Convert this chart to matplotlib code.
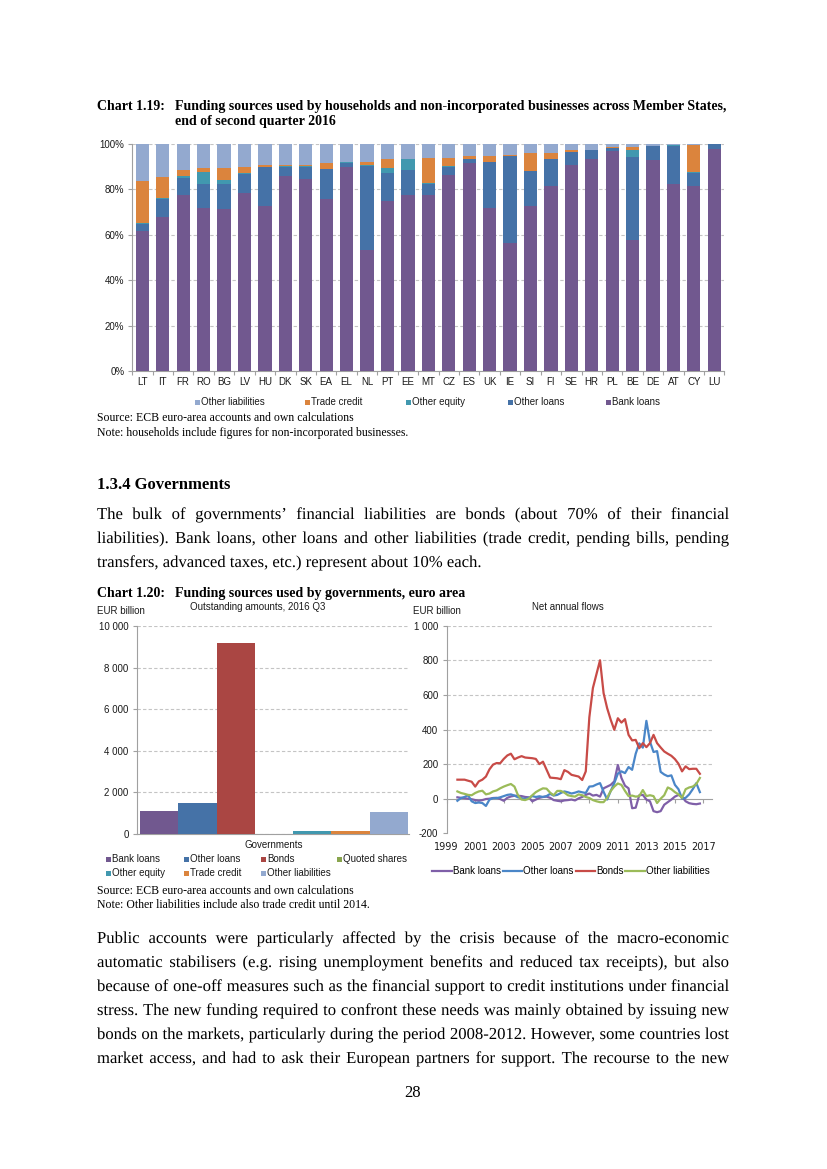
import numpy as np
import matplotlib.pyplot as plt
import matplotlib.patheffects as pe
from matplotlib.patches import Rectangle

# ---- Chart 1.19 data (% of total liabilities) ----
countries = ['LT', 'IT', 'FR', 'RO', 'BG', 'LV', 'HU', 'DK', 'SK', 'EA', 'EL', 'NL', 'PT', 'EE', 'MT',
             'CZ', 'ES', 'UK', 'IE', 'SI', 'FI', 'SE', 'HR', 'PL', 'BE', 'DE', 'AT', 'CY', 'LU']
bank_loans = [61.6, 67.9, 77.5, 71.7, 71.4, 78.4, 72.8, 86.0, 84.7, 75.7, 90.0, 53.3, 75.1, 77.5, 77.6,
              86.3, 91.5, 71.9, 56.6, 72.6, 81.3, 90.6, 93.4, 97.1, 57.6, 92.8, 82.5, 81.6, 97.9]
other_loans = [3.2, 7.8, 7.6, 10.5, 10.8, 8.5, 16.9, 4.0, 5.3, 13.3, 1.8, 37.1, 12.2, 11.0, 4.7,
               3.5, 1.9, 20.1, 37.9, 15.3, 11.9, 5.9, 3.8, 1.1, 36.8, 6.2, 16.8, 5.7, 2.0]
other_equity = [0.4, 0.3, 0.6, 5.4, 2.0, 0.3, 0.3, 0.1, 0.1, 0.2, 0.1, 0.3, 2.1, 4.7, 0.3,
                0.3, 0.1, 0.2, 0.1, 0.2, 0.2, 0.1, 0.1, 0.2, 3.1, 0.1, 0.1, 0.2, 0.0]
trade_credit = [18.6, 9.4, 2.7, 1.8, 5.2, 2.6, 0.7, 0.6, 0.8, 2.4, 0.3, 1.3, 4.0, 0.2, 11.1,
                3.9, 1.3, 2.6, 0.7, 8.1, 2.6, 0.6, 0.2, 0.1, 1.2, 0.2, 0.2, 12.2, 0.1]
other_liab = [16.2, 14.6, 11.6, 10.6, 10.6, 10.2, 9.3, 9.3, 9.1, 8.4, 7.8, 8.0, 6.6, 6.6, 6.3,
              6.0, 5.2, 5.2, 4.7, 3.8, 4.0, 2.8, 2.5, 1.5, 1.3, 0.7, 0.4, 0.3, 0.0]

# ---- Chart 1.20 left: outstanding amounts, EUR billion ----
gov_labels = ['Bank loans', 'Other loans', 'Bonds', 'Quoted shares', 'Other equity', 'Trade credit',
              'Other liabilities']
gov_values = [1120, 1470, 9170, 0, 130, 130, 1040]

# ---- Chart 1.20 right: net annual flows, quarterly ----
flow_bank = [8, 5, 3, 0, -3, -8, -12, -8, -2, 0,
             4, 5, -2, -12, 5, 13, 17, 17, 15, 10,
             8, -15, -5, 5, 10, 12, 5, -8, -12, -15,
             -10, -8, -5, -10, 2, 10, 22, 30, 18, 22,
             12, 60, 70, 80, 100, 195, 120, 75, 60, -55,
             -52, 20, 22, -5, -15, -72, -78, -72, -35, -20,
             -5, 12, 22, 12, -15, -26, -30, -32, -28]
flow_other_loans = [-12, 4, 10, 20, -15, -25, -22, -25, -42, -5,
                    3, 3, 8, 15, 22, 25, 18, 8, 3, -2,
                    5, 15, 10, 14, 10, 15, 28, 18, 22, 33,
                    42, 37, 30, 35, 42, 37, 33, 70, 72, 82,
                    90, 40, -5, 45, 90, 145, 158, 148, 183, 167,
                    260, 320, 295, 450, 330, 270, 275, 155, 140, 130,
                    135, 80, 55, 0, 5, 25, 55, 90, 38]
flow_bonds = [110, 110, 110, 104, 98, 70, 100, 110, 128, 170,
              197, 206, 205, 230, 250, 260, 228, 238, 246, 238,
              236, 234, 230, 200, 214, 168, 122, 120, 118, 113,
              165, 155, 138, 133, 128, 108, 158, 470, 640, 720,
              800, 610, 523, 456, 398, 465, 440, 460, 369, 337,
              340, 292, 321, 298, 321, 369, 321, 296, 273, 260,
              248, 229, 202, 158, 187, 171, 173, 173, 144]
flow_other_liab = [42, 33, 28, 22, 20, 33, 42, 46, 25, 30,
                   42, 48, 60, 70, 78, 85, 70, 20, -5, -8,
                   0, 20, 38, 50, 60, 58, 35, 20, 45, 45,
                   35, 20, 15, 12, 25, 20, 10, 4, -8, -15,
                   -20, -20, 5, 45, 70, 88, 80, 45, 15, 18,
                   12, 15, 50, 15, 20, 15, -25, 0, 20, 65,
                   55, 38, 25, 5, 55, 65, 70, 85, 120]
quarters = 1999.75 + 0.25 * np.arange(len(flow_bonds))
year_ticks = list(range(1999, 2018, 2))

# ---- page text ----
para1 = ["The bulk of governments\u2019 financial liabilities are bonds (about 70% of their financial",
         "liabilities). Bank loans, other loans and other liabilities (trade credit, pending bills, pending",
         "transfers, advanced taxes, etc.) represent about 10% each."]
para2 = ["Public accounts were particularly affected by the crisis because of the macro-economic",
         "automatic stabilisers (e.g. rising unemployment benefits and reduced tax receipts), but also",
         "because of one-off measures such as the financial support to credit institutions under financial",
         "stress. The new funding required to confront these needs was mainly obtained by issuing new",
         "bonds on the markets, particularly during the period 2008-2012. However, some countries lost",
         "market access, and had to ask their European partners for support. The recourse to the new"]

W, H = 827, 1169
SANS = 'Liberation Sans'
SERIF = 'Liberation Serif'
GRID = '#c4c4c4'
AXC = '#a0a0a0'
TXT = '#1a1a1a'
AS_PATH = [pe.Normal()]   # draw body words as outlines so baselines stay aligned

C_BANK = '#71588f'
C_OLOAN = '#4572a7'
C_BOND = '#aa4643'
C_QS = '#89a54e'
C_EQ = '#4198af'
C_TC = '#db843d'
C_OLIAB = '#93a9cf'

fig = plt.figure(figsize=(W / 100, H / 100), dpi=100)


def fx(px):
    return px / W


def fy(py):
    return 1 - py / H


def box(left, top, right, bottom):
    return [fx(left), fy(bottom), (right - left) / W, (bottom - top) / H]


def style_axes(ax):
    for s in ['top', 'right']:
        ax.spines[s].set_visible(False)
    for s in ['left', 'bottom']:
        ax.spines[s].set_color(AXC)
        ax.spines[s].set_linewidth(0.8)
    ax.tick_params(colors=AXC, labelcolor=TXT, labelsize=7, width=0.8, length=3)
    for lab in ax.get_xticklabels() + ax.get_yticklabels():
        lab.set_family(SANS)


def square_legend(items, xs, y):
    for (lab, col), xp in zip(items, xs):
        fig.add_artist(Rectangle((fx(xp), fy(y + 2.5)), 5 / W, 5 / H, color=col,
                                 transform=fig.transFigure, lw=0))
        fig.text(fx(xp + 6), fy(y), lab, fontsize=7, family=SANS, color=TXT, va='center')


def text_lines(lines, x0, x1, y0, dy=24, size=12, justify_last=False):
    renderer = fig.canvas.get_renderer()
    for k, line in enumerate(lines):
        y = fy(y0 + dy * k)
        if k == len(lines) - 1 and not justify_last:
            fig.text(fx(x0), y, line, fontsize=size, family=SERIF, va='baseline', path_effects=AS_PATH)
            continue
        words = line.split()
        ts = [fig.text(0, y, w, fontsize=size, family=SERIF, va='baseline', path_effects=AS_PATH)
              for w in words]
        widths = [t.get_window_extent(renderer).width for t in ts]
        gap = (x1 - x0 - sum(widths)) / (len(words) - 1)
        xp = x0
        for t, wd in zip(ts, widths):
            t.set_x(fx(xp))
            xp += wd + gap


# ================= Chart 1.19 =================
fig.text(fx(97), fy(110), 'Chart 1.19:', fontsize=10, weight='bold', family=SERIF)
fig.text(fx(175), fy(110), 'Funding sources used by households and non-incorporated businesses across Member States,',
         fontsize=10, weight='bold', family=SERIF)
fig.text(fx(175), fy(125), 'end of second quarter 2016', fontsize=10, weight='bold', family=SERIF)

ax1 = fig.add_axes(box(132.1, 144, 724.5, 371))
x = np.arange(len(countries))
bottom = np.zeros(len(countries))
stack = [(bank_loans, C_BANK), (other_loans, C_OLOAN), (other_equity, C_EQ),
         (trade_credit, C_TC), (other_liab, C_OLIAB)]
for vals, col in stack:
    ax1.bar(x, vals, 0.65, bottom=bottom, color=col, zorder=3, lw=0)
    bottom += np.array(vals)
ax1.set_xlim(-0.5, len(countries) - 0.5)
ax1.set_ylim(0, 100)
ax1.set_yticks(range(0, 101, 20), [f'{v}%' for v in range(0, 101, 20)])
ax1.set_xticks(x, countries)
ax1.set_xticks(np.arange(-0.5, len(countries), 1), minor=True)
ax1.yaxis.grid(True, ls=(0, (3, 2)), color=GRID, lw=0.8, zorder=0)
ax1.set_axisbelow(True)
style_axes(ax1)
ax1.tick_params(axis='x', which='major', length=0, pad=4)
ax1.tick_params(axis='x', which='minor', length=3, color=AXC, width=0.8)
ax1.tick_params(axis='y', pad=2.5)

square_legend([('Other liabilities', C_OLIAB), ('Trade credit', C_TC), ('Other equity', C_EQ),
               ('Other loans', C_OLOAN), ('Bank loans', C_BANK)], [195, 305, 406, 508, 606], 402)

fig.text(fx(97), fy(421), 'Source: ECB euro-area accounts and own calculations', fontsize=8.5, family=SERIF)
fig.text(fx(97), fy(436), 'Note: households include figures for non-incorporated businesses.', fontsize=8.5,
         family=SERIF)

# ================= Section text =================
fig.text(fx(97), fy(489), '1.3.4 Governments', fontsize=12, weight='bold', family=SERIF)
text_lines(para1, 97, 729, 519)

# ================= Chart 1.20 =================
fig.text(fx(97), fy(597), 'Chart 1.20:', fontsize=10, weight='bold', family=SERIF)
fig.text(fx(175), fy(597), 'Funding sources used by governments, euro area', fontsize=10, weight='bold',
         family=SERIF)

# left: outstanding amounts
ax2 = fig.add_axes(box(137, 626, 409, 834))
gov_colors = [C_BANK, C_OLOAN, C_BOND, C_QS, C_EQ, C_TC, C_OLIAB]
ax2.bar(np.arange(len(gov_values)), gov_values, 1.0, color=gov_colors, zorder=3, lw=0)
ax2.set_xlim(-0.58, 6.53)
ax2.set_ylim(0, 10000)
ax2.set_yticks(range(0, 10001, 2000), ['0', '2 000', '4 000', '6 000', '8 000', '10 000'])
ax2.set_xticks([3], ['Governments'])
ax2.yaxis.grid(True, ls=(0, (3, 2)), color=GRID, lw=0.8, zorder=0)
ax2.set_axisbelow(True)
style_axes(ax2)
ax2.tick_params(axis='x', length=0, pad=4)
ax2.tick_params(axis='y', pad=3)
fig.text(fx(97), fy(611), 'EUR billion', fontsize=7, family=SANS, color=TXT, va='center')
fig.text(fx(258), fy(607), 'Outstanding amounts, 2016 Q3', fontsize=7, family=SANS, color=TXT,
         va='center', ha='center')

square_legend(list(zip(gov_labels[:4], gov_colors[:4])), [106, 184, 261, 337], 859)
square_legend(list(zip(gov_labels[4:], gov_colors[4:])), [106, 184, 261], 873)

# right: net annual flows
ax3 = fig.add_axes(box(446.7, 625.7, 712, 833.3))
ax3.plot(quarters, flow_bank, color='#7f5fa8', lw=1.6, label='Bank loans', zorder=3)
ax3.plot(quarters, flow_other_loans, color='#4a86c8', lw=1.6, label='Other loans', zorder=3)
ax3.plot(quarters, flow_bonds, color='#c84b47', lw=1.6, label='Bonds', zorder=3)
ax3.plot(quarters, flow_other_liab, color='#9bbb59', lw=1.6, label='Other liabilities', zorder=3)
ax3.set_xlim(1999, 2017.6)
ax3.set_ylim(-200, 1000)
ax3.set_yticks(range(-200, 1001, 200), ['-200', '0', '200', '400', '600', '800', '1 000'])
ax3.set_xticks(year_ticks, [str(v) for v in year_ticks])
for v in range(200, 1001, 200):
    ax3.axhline(v, ls=(0, (3, 2)), color=GRID, lw=0.8, zorder=0)
style_axes(ax3)
ax3.spines['bottom'].set_position(('data', 0))
ax3.tick_params(axis='x', pad=28)
ax3.tick_params(axis='y', pad=3)
fig.text(fx(413), fy(611), 'EUR billion', fontsize=7, family=SANS, color=TXT, va='center')
fig.text(fx(568), fy(607), 'Net annual flows', fontsize=7, family=SANS, color=TXT, va='center', ha='center')
leg = fig.legend(*ax3.get_legend_handles_labels(), loc='center', bbox_to_anchor=(fx(571), fy(871)),
                 ncol=4, frameon=False, handlelength=2.0, handletextpad=0.1, columnspacing=0.2,
                 prop={'family': SANS, 'size': 7})

fig.text(fx(97), fy(894), 'Source: ECB euro-area accounts and own calculations', fontsize=8.5, family=SERIF)
fig.text(fx(97), fy(908), 'Note: Other liabilities include also trade credit until 2014.', fontsize=8.5,
         family=SERIF)

# ================= Closing paragraph =================
text_lines(para2, 97, 729, 943, justify_last=True)
fig.text(fx(413), fy(1097), '28', fontsize=12, family=SERIF, ha='center')

fig.savefig('out.png', dpi=100)
